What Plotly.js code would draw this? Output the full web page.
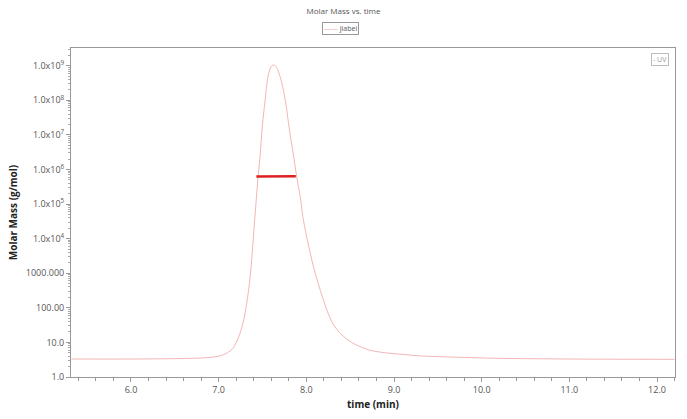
<!DOCTYPE html>
<html>
<head>
<meta charset="utf-8">
<script src="https://cdn.plot.ly/plotly-3.0.1.min.js"></script>
<style>html,body{margin:0;padding:0;background:#fff;}#chart{width:687px;height:419px;}</style>
</head>
<body>
<div id="chart"></div>
<script>
// time (min)
var timeMin = [5.32, 6.0, 6.5, 6.8, 7.0, 7.1, 7.16, 7.22, 7.28, 7.33, 7.36, 7.41, 7.45, 7.47, 7.5, 7.53, 7.56, 7.59, 7.62, 7.66, 7.71, 7.76, 7.81, 7.86, 7.89, 7.93, 7.96, 8.0, 8.08, 8.16, 8.24, 8.3, 8.38, 8.46, 8.53, 8.62, 8.73, 8.9, 9.1, 9.3, 9.6, 10.2, 11.0, 12.2];
// UV trace plotted on molar-mass axis (g/mol)
var uvSignal = [3.31, 3.31, 3.39, 3.55, 3.98, 5.01, 6.61, 12.6, 38.0, 200, 813, 3.16e4, 6.17e5, 2.0e6, 2.0e7, 1.0e8, 4.47e8, 8.51e8, 1.05e9, 8.9e8, 3.98e8, 1.0e8, 1.26e7, 2.0e6, 6.17e5, 1.66e5, 4.37e4, 1.26e4, 1585, 316, 79.4, 35.5, 19.1, 12.6, 9.6, 7.4, 5.9, 5.0, 4.5, 4.07, 3.80, 3.47, 3.31, 3.24];
// molar mass segment (jiabei)
var mmTime = [7.43, 7.88];
var mmValue = [6.2e5, 6.3e5];
// tick labels
var yTickVals = [1, 10, 100, 1000, 1e4, 1e5, 1e6, 1e7, 1e8, 1e9];
var yTickText = ["1.0", "10.0", "100.00", "1000.000", "1.0x10<sup>4</sup>", "1.0x10<sup>5</sup>", "1.0x10<sup>6</sup>", "1.0x10<sup>7</sup>", "1.0x10<sup>8</sup>", "1.0x10<sup>9</sup>"];
var xTickVals = [6, 7, 8, 9, 10, 11, 12];
var xTickText = ["6.0", "7.0", "8.0", "9.0", "10.0", "11.0", "12.0"];

var traces = [
  {x: timeMin, y: uvSignal, type: 'scatter', mode: 'lines', name: 'UV',
   line: {color: 'rgba(238,150,150,0.7)', width: 1, shape: 'spline', smoothing: 0.8}},
  {x: mmTime, y: mmValue, type: 'scatter', mode: 'lines', name: 'jiabei',
   line: {color: '#e02020', width: 2.5}}
];

var layout = {
  width: 687, height: 419,
  margin: {l: 71, r: 12, t: 48, b: 42},
  paper_bgcolor: '#fff', plot_bgcolor: '#fff',
  font: {family: 'Open Sans, sans-serif', color: '#555', size: 9},
  title: {text: 'Molar Mass vs. time', font: {size: 8, color: '#555'}, x: 0.5, xref: 'container', xanchor: 'center', y: 1 - 11/419, yref: 'container', yanchor: 'middle'},
  showlegend: false,
  xaxis: {range: [5.316, 12.205], tickmode: 'array', tickvals: xTickVals, ticktext: xTickText,
          ticks: 'outside', ticklen: 4, tickcolor: '#999', showline: true, linecolor: '#999', mirror: true,
          showgrid: false, zeroline: false, tickfont: {size: 9, color: '#555'},
          minor: {dtick: 0.2, ticks: 'outside', ticklen: 3, tickcolor: '#999', showgrid: false},
          title: {text: '<b>time (min)</b>', font: {size: 10, color: '#222'}, standoff: 6}},
  yaxis: {type: 'log', range: [0, 9.51], tickmode: 'array', tickvals: yTickVals, ticktext: yTickText,
          ticks: 'outside', ticklen: 4, tickcolor: '#999', showline: true, linecolor: '#999', mirror: true,
          showgrid: false, zeroline: false, tickfont: {size: 9, color: '#555'},
          minor: {dtick: 'D1', ticks: 'outside', ticklen: 2, tickcolor: '#aaa', showgrid: false},
          title: {text: '<b>Molar Mass (g/mol)</b>', font: {size: 10, color: '#222'}, standoff: 6}},
  annotations: [
    {xref: 'paper', yref: 'paper', x: 0.447, y: (377 - 28) / 329, xanchor: 'center', yanchor: 'middle',
     text: '<span style="color:#eaa">——</span> jiabei', showarrow: false,
     font: {size: 7, color: '#555'}, bordercolor: '#999', borderwidth: 1, borderpad: 1, bgcolor: '#fff'},
    {xref: 'paper', yref: 'paper', x: 0.99, y: 0.985, xanchor: 'right', yanchor: 'top', text: '- UV', showarrow: false,
     font: {size: 7, color: '#999'}, bordercolor: '#bbb', borderwidth: 1, borderpad: 1, bgcolor: '#fff'}
  ]
};

Plotly.newPlot('chart', traces, layout, {displayModeBar: false, staticPlot: true});
</script>
</body>
</html>
